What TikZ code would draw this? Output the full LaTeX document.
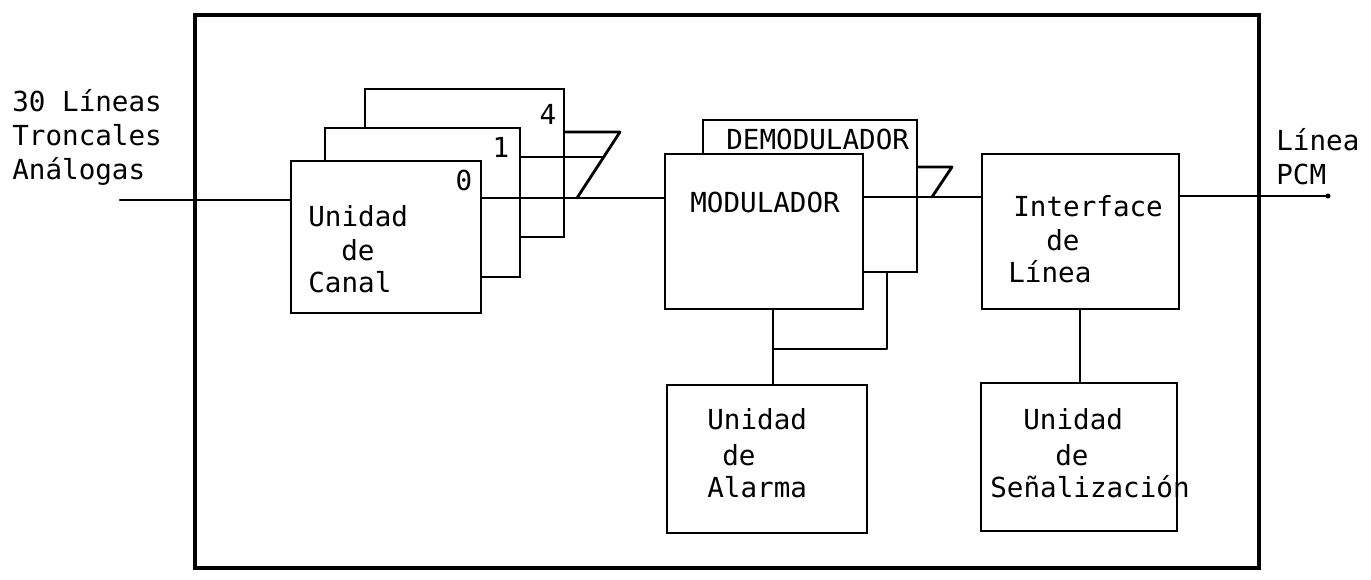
\documentclass[tikz,border=0pt]{standalone}
\usepackage{fontspec}
\newfontfamily\tw{DejaVu Sans Mono}
\usetikzlibrary{fit}
\begin{document}
\begin{tikzpicture}[x=0.02cm,y=-0.02cm,
  ln/.style={line width=1.6pt, line cap=round, line join=round},
  box/.style={draw, line width=1.6pt, fill=white, inner sep=0pt},
  lab/.style={anchor=west, inner sep=0pt, text height=0.4cm, text depth=0pt, font=\tw\fontsize{15.7}{18}\selectfont}]
\useasboundingbox (0,0) rectangle (1371,580);
% outer frame
\node[draw, line width=1.8pt, inner sep=0pt, fit={(195,15)(1259,568)}] (frame) {};
% channel units (stacked)
\node[box, fit={(365,89)(564,237)}] (c4) {};
\node[box, fit={(325,128)(520,277)}] (c1) {};
\node[box, fit={(291,161)(481,313)}] (c0) {};
\node[lab, anchor=center] (n4) at (548,115) {4};
\node[lab, anchor=center] (n1) at (501,148) {1};
\node[lab, anchor=center] (n0) at (464,181) {0};
\node[lab] (cu1) at (308,217) {Unidad};
\node[lab] (cu2) at (341,251) {de};
\node[lab] (cu3) at (308,283) {Canal};
% modulator / demodulator
\node[box, fit={(703,120)(917,272)}] (dem) {};
\node[box, fit={(665,154)(863,309)}] (mod) {};
\node[lab] (demt) at (726,140) {DEMODULADOR};
\node[lab] (modt) at (690,203) {MODULADOR};
% line interface
\node[box, fit={(982,154)(1179,309)}] (intf) {};
\node[lab] (if1) at (1013,207) {Interface};
\node[lab] (if2) at (1046,241) {de};
\node[lab] (if3) at (1008,273) {Línea};
% alarm
\node[box, fit={(667,385)(867,533)}] (alm) {};
\node[lab] (al1) at (707,420) {Unidad};
\node[lab] (al2) at (722,455) {de};
\node[lab] (al3) at (707,488) {Alarma};
% signalling
\node[box, fit={(981,383)(1177,531)}] (sig) {};
\node[lab] (sg1) at (1023,420) {Unidad};
\node[lab] (sg2) at (1055,455) {de};
\node[lab] (sg3) at (990,488) {Señalización};
% outside labels
\node[lab] (in1) at (12,102) {30 Líneas};
\node[lab] (in2) at (12,136) {Troncales};
\node[lab] (in3) at (12,170) {Análogas};
\node[lab] (out1) at (1276,141) {Línea};
\node[lab] (out2) at (1276,175) {PCM};
% coordinates
\coordinate (inS) at (120,200);
\coordinate (join0) at (577,198);
\coordinate (top4) at (620,132);
\coordinate (join1) at (603,157);
\coordinate (joinD) at (932,197);
\coordinate (topD) at (952,167);
\coordinate (pcm) at (1328,196);
\coordinate (tee) at (773,349);
\coordinate (teeR) at (887,349);
% connectors
\draw[ln] (inS) -- (inS -| c0.west);
\draw[ln] (c0.east |- join0) -- (join0 -| mod.west);
\draw[ln] (c4.east |- top4) -- (top4) -- (join0);
\draw[ln] (c1.east |- join1) -- (join1);
\draw[ln] (mod.east |- joinD) -- (joinD -| intf.west);
\draw[ln] (dem.east |- topD) -- (topD) -- (joinD);
\draw[ln] (intf.east |- pcm) -- (pcm);
\fill (pcm) circle (2.5);
\draw[ln] (tee |- mod.south) -- (tee |- alm.north);
\draw[ln] (tee) -- (teeR) -- (teeR |- dem.south);
\draw[ln] (intf.south -| 1080,0) -- (sig.north -| 1080,0);
\end{tikzpicture}
\end{document}
